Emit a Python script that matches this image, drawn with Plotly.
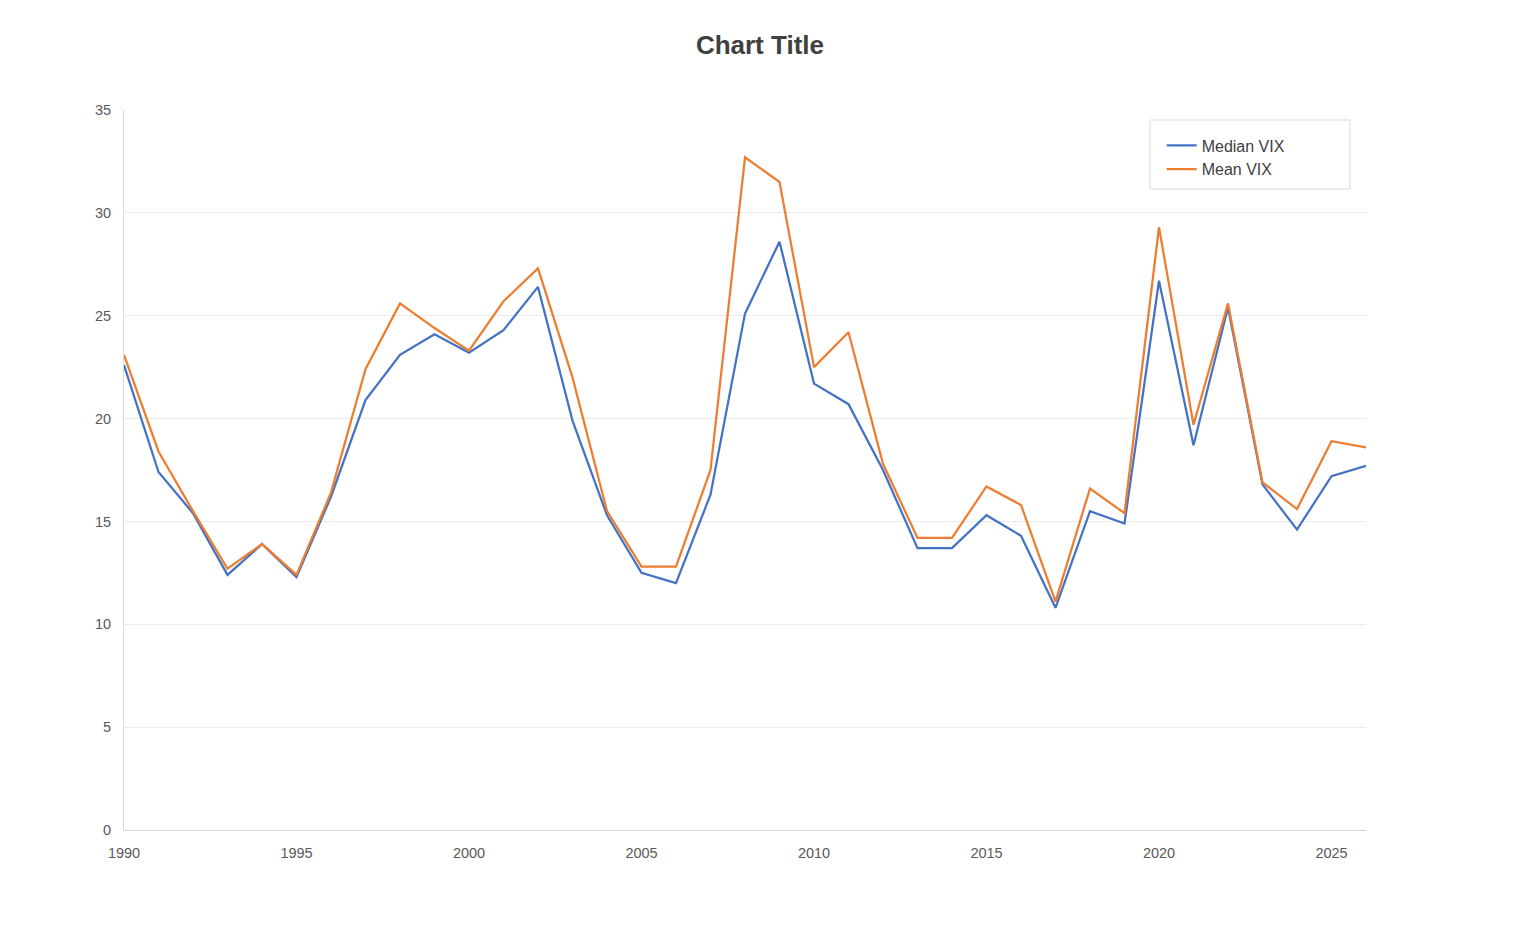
import plotly.graph_objects as go

years = list(range(1990, 2027))
median_vix = [22.6, 17.4, 15.4, 12.4, 13.9, 12.3, 16.2, 20.9, 23.1, 24.1,
              23.2, 24.3, 26.4, 19.9, 15.3, 12.5, 12.0, 16.3, 25.1, 28.6,
              21.7, 20.7, 17.5, 13.7, 13.7, 15.3, 14.3, 10.8, 15.5, 14.9,
              26.7, 18.7, 25.4, 16.8, 14.6, 17.2, 17.7]
mean_vix = [23.1, 18.4, 15.5, 12.7, 13.9, 12.4, 16.4, 22.4, 25.6, 24.4,
            23.3, 25.7, 27.3, 22.0, 15.5, 12.8, 12.8, 17.5, 32.7, 31.5,
            22.5, 24.2, 17.8, 14.2, 14.2, 16.7, 15.8, 11.1, 16.6, 15.4,
            29.3, 19.7, 25.6, 16.9, 15.6, 18.9, 18.6]
x_ticks = [1990, 1995, 2000, 2005, 2010, 2015, 2020, 2025]
y_ticks = [0, 5, 10, 15, 20, 25, 30, 35]

fig = go.Figure()
fig.add_trace(go.Scatter(x=years, y=median_vix, mode="lines", name="Median VIX",
                         line=dict(color="#4472C4", width=2.25)))
fig.add_trace(go.Scatter(x=years, y=mean_vix, mode="lines", name="Mean VIX",
                         line=dict(color="#ED7D31", width=2.25)))

# legend frame
fig.add_shape(type="rect", xref="paper", yref="paper",
              x0=0.8261, x1=0.9871, y0=0.8903, y1=0.9861,
              line=dict(color="#d9d9d9", width=1), fillcolor="white", layer="below")

fig.update_layout(
    width=1520, height=940,
    margin=dict(l=116, r=162, t=102, b=118),
    paper_bgcolor="white", plot_bgcolor="white",
    font=dict(family="Liberation Sans, Arial, sans-serif", color="#595959", size=14),
    title=dict(text="<b>Chart Title</b>", x=0.4947, xanchor="center", y=0.9606, yanchor="middle",
               font=dict(size=26, color="#404040")),
    showlegend=True,
    legend=dict(x=0.8355, y=0.9745, xanchor="left", yanchor="top",
                borderwidth=0, bgcolor="rgba(0,0,0,0)",
                font=dict(size=16, color="#404040")),
)
fig.update_xaxes(range=[1990, 2026], tickvals=x_ticks, showgrid=False,
                 showline=True, linecolor="#d9d9d9", linewidth=1,
                 ticks="", ticklabelstandoff=10, zeroline=False,
                 tickfont=dict(size=14.5))
fig.update_yaxes(range=[0, 35], tickvals=y_ticks, showgrid=True, gridcolor="#ebebeb",
                 gridwidth=1, showline=True, linecolor="#d9d9d9", linewidth=1,
                 ticks="", ticklabelstandoff=9, zeroline=False,
                 tickfont=dict(size=14.5))

fig.write_html("out.html")
